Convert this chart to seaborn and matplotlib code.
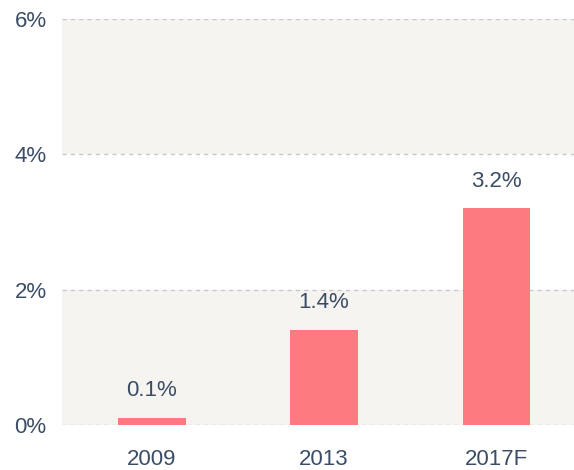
import matplotlib
matplotlib.use("Agg")
import matplotlib.pyplot as plt
import seaborn as sns
import pandas as pd

years = ["2009", "2013", "2017F"]
shares = [0.1, 1.4, 3.2]
value_labels = ["0.1%", "1.4%", "3.2%"]
y_ticks = [0, 2, 4, 6]
y_tick_labels = ["0%", "2%", "4%", "6%"]

sns.set_theme(style="white")
plt.rcParams["font.family"] = ["Liberation Sans", "DejaVu Sans"]

text_color = "#3b4d66"
bar_color = "#fd7a80"
band_color = "#f5f4f0"

df = pd.DataFrame({"year": years, "share": shares})

fig = plt.figure(figsize=(5.74, 4.70), dpi=100)
ax = fig.add_axes([0.108, 0.0957, 0.892, 0.864])

# alternating background bands
for lo, hi, c in [(0, 2, band_color), (2, 4, "white"), (4, 6, band_color)]:
    ax.axhspan(lo, hi, color=c, zorder=0, lw=0)

for t in y_ticks:
    ax.axhline(t, color="#c8c8c8", lw=1.0, ls=(0, (3, 3)), zorder=1)

sns.barplot(data=df, x="year", y="share", color=bar_color, width=0.39,
            saturation=1, linewidth=0, ax=ax, zorder=2)

for i, (v, lab) in enumerate(zip(shares, value_labels)):
    ax.text(i, v + 0.25, lab, ha="center", va="bottom", fontsize=16,
            color=text_color)

ax.set_ylim(0, 6)
ax.set_xlim(-0.523, 2.453)
ax.set_yticks(y_ticks)
ax.set_yticklabels(y_tick_labels)
ax.set_xlabel("")
ax.set_ylabel("")
ax.tick_params(axis="both", labelsize=16, colors=text_color, length=0)
ax.tick_params(axis="x", pad=17)
ax.tick_params(axis="y", pad=11)
for lab in ax.get_xticklabels() + ax.get_yticklabels():
    lab.set_color(text_color)
for s in ax.spines.values():
    s.set_visible(False)

fig.savefig("out.png", dpi=100, facecolor="white")
